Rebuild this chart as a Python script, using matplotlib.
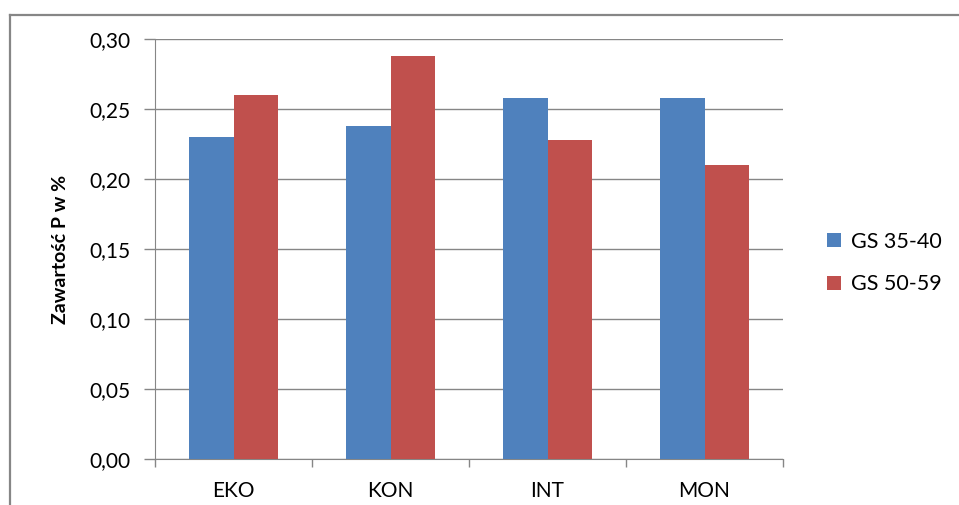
import matplotlib
matplotlib.use("Agg")
import matplotlib.pyplot as plt
import numpy as np
from matplotlib.ticker import FuncFormatter, FixedLocator, NullFormatter
from matplotlib.lines import Line2D

categories = ["EKO", "KON", "INT", "MON"]
series_names = ["GS 35-40", "GS 50-59"]
gs_35_40 = [0.230, 0.238, 0.258, 0.258]
gs_50_59 = [0.260, 0.288, 0.228, 0.210]
y_ticks = [0.00, 0.05, 0.10, 0.15, 0.20, 0.25, 0.30]

plt.rcParams["font.family"] = ["Lato", "DejaVu Sans"]

W, H = 959, 505
fig = plt.figure(figsize=(W / 100, H / 100), dpi=100)
fig.patch.set_facecolor("white")

# outer chart border (left and top edges visible)
grey = "#868686"
fig.add_artist(Line2D([10 / W, 10 / W], [1 - 15 / H, 0], transform=fig.transFigure,
                      color=grey, lw=1.6))
fig.add_artist(Line2D([10 / W, 1], [1 - 15 / H, 1 - 15 / H], transform=fig.transFigure,
                      color=grey, lw=1.6))

ax = fig.add_axes([155 / W, 1 - 459 / H, (783 - 155) / W, (459 - 39) / H])

x = np.arange(len(categories))
bw = 1 / 3.5
blue = "#4F81BD"
red = "#C0504D"
ax.bar(x - bw / 2, gs_35_40, width=bw, color=blue, label=series_names[0], zorder=3)
ax.bar(x + bw / 2, gs_50_59, width=bw, color=red, label=series_names[1], zorder=3)

ax.set_xlim(-0.5, len(categories) - 0.5)
ax.set_ylim(0, 0.30)
ax.set_yticks(y_ticks)
ax.yaxis.set_major_formatter(FuncFormatter(lambda v, p: f"{v:.2f}".replace(".", ",")))
ax.grid(axis="y", color=grey, lw=1.0, zorder=0)
ax.set_axisbelow(True)

ax.set_xticks(x)
ax.set_xticklabels(categories)
ax.xaxis.set_minor_locator(FixedLocator(np.arange(-0.5, len(categories), 1.0)))
ax.xaxis.set_minor_formatter(NullFormatter())
ax.tick_params(axis="x", which="major", length=0, pad=16, labelsize=15, colors="black")
ax.tick_params(axis="x", which="minor", length=6, color=grey, width=1)
ax.tick_params(axis="y", length=8, color=grey, width=1, pad=10, labelsize=15)

for s in ["top", "right"]:
    ax.spines[s].set_visible(False)
ax.spines["left"].set_color(grey)
ax.spines["bottom"].set_color(grey)

fig.text(60 / W, 1 - 249 / H, "Zawartość P w %", rotation=90, ha="center", va="center",
         fontsize=14, fontweight="bold")

ax.legend(loc="center left", bbox_to_anchor=(808 / W, 1 - 263 / H),
          bbox_transform=fig.transFigure, frameon=False, fontsize=15.5,
          handlelength=0.65, handleheight=0.65, handletextpad=0.45, labelspacing=1.05)

fig.savefig("out.png", dpi=100)
